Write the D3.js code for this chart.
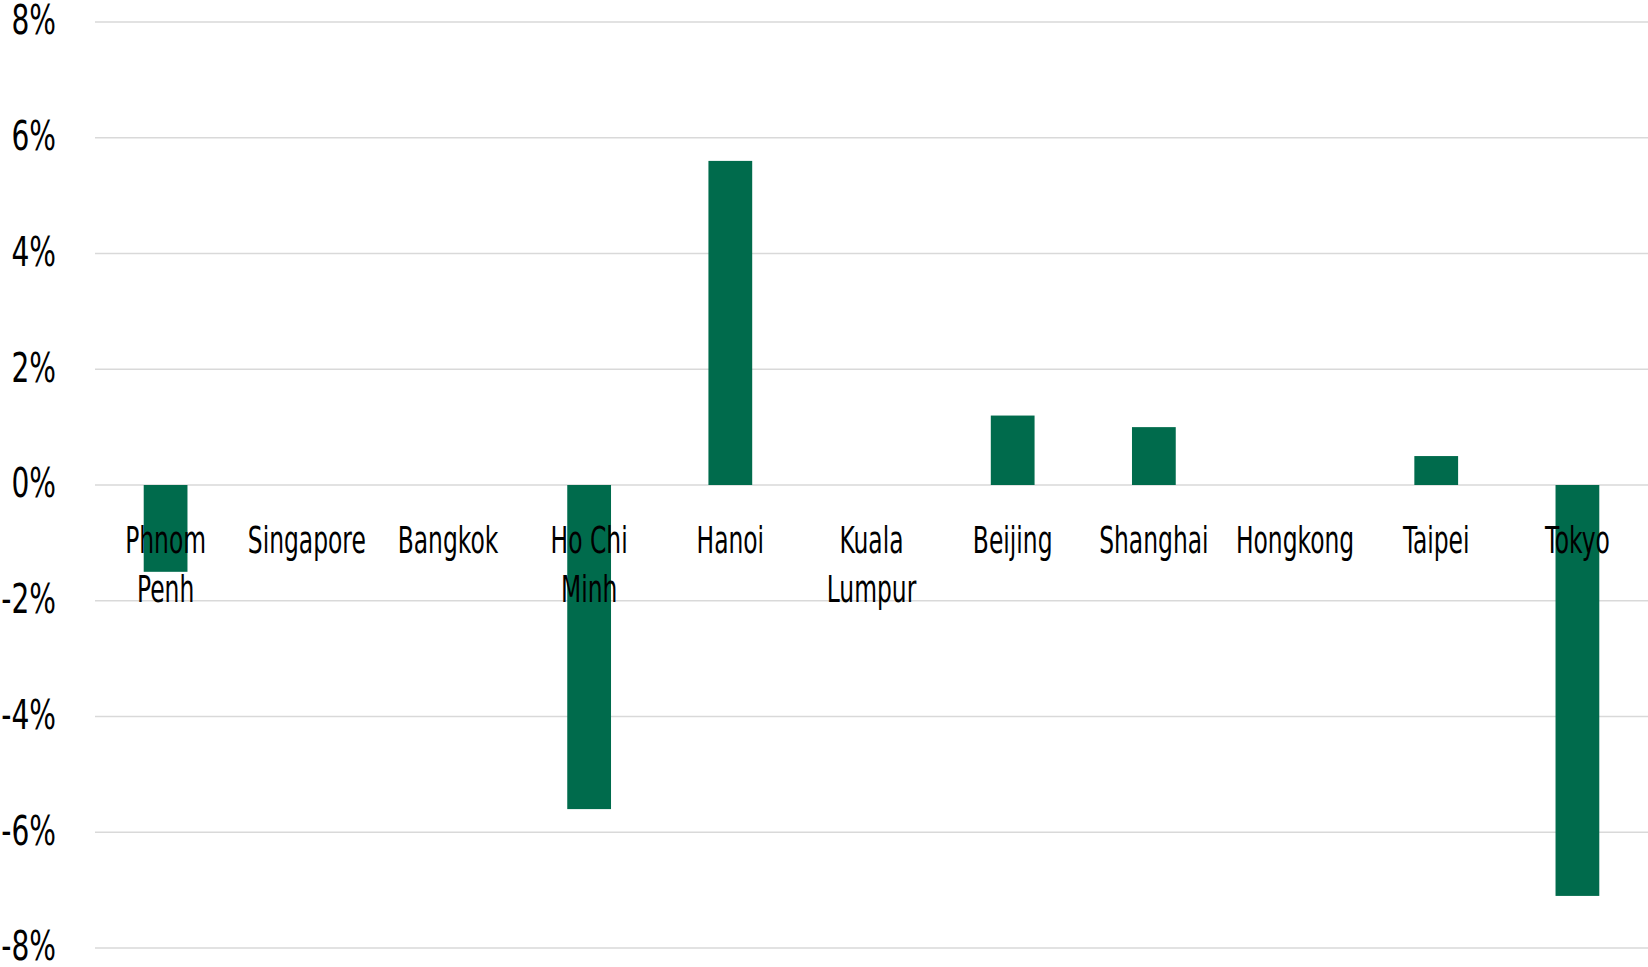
<!DOCTYPE html>
<html>
<head>
<meta charset="utf-8">
<script src="https://cdn.jsdelivr.net/npm/d3@7"></script>
<style>
  html, body { margin: 0; padding: 0; background: #fff; }
  svg { display: block; }
  .lbl { font-family: "DejaVu Sans Condensed", "DejaVu Sans", sans-serif; fill: #000; }
</style>
</head>
<body>
<svg id="chart" width="1648" height="967"></svg>
<script>
// City categories (multi-line labels split on "\n")
const cities = ["Phnom\nPenh", "Singapore", "Bangkok", "Ho Chi\nMinh", "Hanoi", "Kuala\nLumpur",
                "Beijing", "Shanghai", "Hongkong", "Taipei", "Tokyo"];
// Change in percent
const changes = [-1.5, 0, 0, -5.6, 5.6, 0, 1.2, 1.0, 0, 0.5, -7.1];
// Y axis ticks (percent)
const yTicks = [8, 6, 4, 2, 0, -2, -4, -6, -8];

const margin = { left: 95, right: 1648, top: 22, bottom: 948 };
const barColor = "#006b4c";
const gridColor = "#d9d9d9";
const catSqueeze = 0.685;
const tickSqueeze = 0.78;

const svg = d3.select("#chart");

const x = d3.scaleBand()
  .domain(cities)
  .range([margin.left, margin.right])
  .paddingInner(0.69)
  .paddingOuter(0.345);

const y = d3.scaleLinear().domain([-8, 8]).range([margin.bottom, margin.top]);

// Gridlines
svg.append("g").selectAll("line")
  .data(yTicks)
  .join("line")
  .attr("x1", margin.left).attr("x2", margin.right)
  .attr("y1", d => y(d)).attr("y2", d => y(d))
  .attr("stroke", gridColor)
  .attr("stroke-width", 1.6);

// Y tick labels
svg.append("g").selectAll("text")
  .data(yTicks)
  .join("text")
  .attr("class", "lbl")
  .attr("transform", d => `translate(56,${y(d) - 2}) scale(${tickSqueeze},1)`)
  .attr("text-anchor", "end")
  .attr("dy", "0.36em")
  .attr("font-size", 40)
  .text(d => d + "%");

// Bars
svg.append("g").selectAll("rect")
  .data(cities.map((c, i) => ({ c, v: changes[i] })).filter(d => d.v !== 0))
  .join("rect")
  .attr("x", d => x(d.c))
  .attr("width", x.bandwidth())
  .attr("y", d => y(Math.max(0, d.v)))
  .attr("height", d => Math.abs(y(d.v) - y(0)))
  .attr("fill", barColor);

// Category labels
const cat = svg.append("g").selectAll("text")
  .data(cities)
  .join("text")
  .attr("class", "lbl")
  .attr("text-anchor", "middle")
  .attr("font-size", 38)
  .attr("transform", d => `translate(${x(d) + x.bandwidth() / 2},553) scale(${catSqueeze},1)`);

cat.selectAll("tspan")
  .data(d => d.split("\n"))
  .join("tspan")
  .attr("x", 0)
  .attr("y", (d, i) => i * 49)
  .text(d => d);
</script>
</body>
</html>
